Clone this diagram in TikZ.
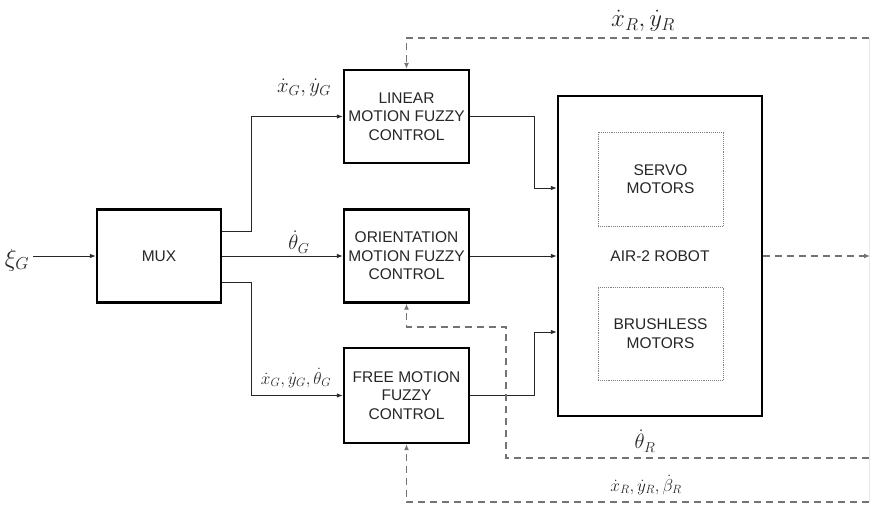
\documentclass[tikz,border=0pt]{standalone}
\usepackage{fontspec}
\setmainfont{Liberation Sans}
\usetikzlibrary{arrows.meta,calc}
\begin{document}
\begin{tikzpicture}[x=1pt,y=-1pt,
  blk/.style={draw=black,line width=2.4pt,fill=white,align=center,inner sep=0pt,
    font=\fontsize{15.5}{18.5}\selectfont,text=black!85},
  inner/.style={draw=gray,densely dotted,line width=0.9pt,align=center,inner sep=0pt,
    font=\fontsize{15.5}{18.5}\selectfont,text=black!85},
  conn/.style={draw=black!85,line width=0.9pt,-{Latex[length=6pt,width=4.5pt]}},
  fb/.style={draw=black!55,line width=1.5pt,dash pattern=on 7pt off 5pt,-{Latex[length=6pt,width=5pt]}},
  lbl/.style={inner sep=0pt,text=black!85}]
\useasboundingbox (0,0) rectangle (871,505);
% blocks
\node[blk,minimum width=124pt,minimum height=93pt] (mux) at (159,256) {MUX};
\node[blk,minimum width=125pt,minimum height=93pt] (lin) at (406.5,116.5) {LINEAR\\MOTION FUZZY\\CONTROL};
\node[blk,minimum width=125pt,minimum height=93pt] (ori) at (406.5,256) {ORIENTATION\\MOTION FUZZY\\CONTROL};
\node[blk,minimum width=125pt,minimum height=95pt] (free) at (406.5,395.5) {FREE MOTION\\FUZZY\\CONTROL};
\node[blk,minimum width=204pt,minimum height=320pt] (robot) at (660,256) {AIR-2 ROBOT};
\node[inner,minimum width=125pt,minimum height=94pt] (servo) at (660.5,179) {SERVO\\MOTORS};
\node[inner,minimum width=125pt,minimum height=93pt] (brush) at (660.5,333.5) {BRUSHLESS\\MOTORS};
% input
\node[lbl,font=\fontsize{25}{25}\selectfont] (xi) at (17,260) {$\xi_G$};
\draw[conn] ([xshift=4pt]xi.east |- mux.west) -- (mux.west);
% mux outputs
\draw[conn] ([yshift=25pt]mux.east) -- ++(29,0) |- (lin.west);
\draw[conn] (mux.east) -- (ori.west);
\draw[conn] ([yshift=-26pt]mux.east) -- ++(29,0) |- (free.west);
% controller outputs
\draw[conn] (lin.east) -- ++(64,0) |- ([yshift=68pt]robot.west);
\draw[conn] (ori.east) -- (robot.west |- ori.east);
\draw[conn] (free.east) -- ++(64,0) |- ([yshift=-76pt]robot.west);
% feedback
\coordinate (t1) at (869,38);
\coordinate (t2) at (869,458);
\coordinate (t3) at (869,502);
\coordinate (out) at (870,256);
\draw[gray!18,line width=0.6pt] (t1) -- (t3);
\draw[fb] (robot.east) -- (out);
\draw[fb] (t1) -| (lin.north);
\draw[fb] (t2) -| (506,327) -| (ori.south);
\draw[fb] (t3) -| (free.south);
% labels
\node[lbl,font=\fontsize{20}{20}\selectfont] (l1) at (304,88) {$\dot x_G,\dot y_G$};
\node[lbl,font=\fontsize{21}{21}\selectfont] (l2) at (299,242) {$\dot\theta_G$};
\node[lbl,font=\fontsize{18}{18}\selectfont] (l3) at (296,378) {$\dot x_G,\dot y_G,\dot\theta_G$};
\node[lbl,font=\fontsize{25}{25}\selectfont] (l4) at (643,21) {$\dot x_R,\dot y_R$};
\node[lbl,font=\fontsize{21}{21}\selectfont] (l5) at (645,441) {$\dot\theta_R$};
\node[lbl,font=\fontsize{17}{17}\selectfont] (l6) at (646,485) {$\dot x_R,\dot y_R,\dot\beta_R$};
\end{tikzpicture}
\end{document}
